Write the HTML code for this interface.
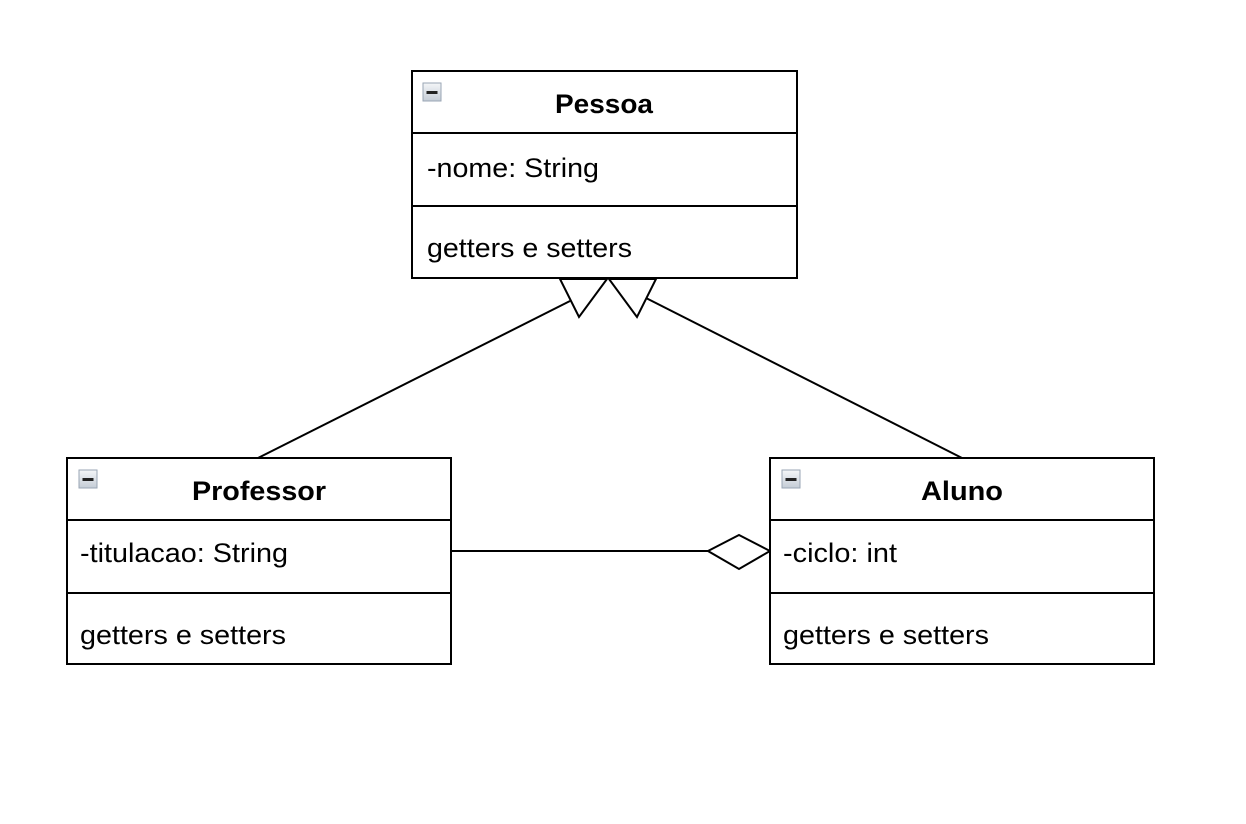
<!DOCTYPE html>
<html><head><style>body{margin:0;background:#fff}svg{display:block}</style></head><body>
<svg width="1246" height="824" viewBox="0 0 1246 824" xmlns="http://www.w3.org/2000/svg" font-family="Liberation Sans, Arial, sans-serif" font-size="27">
<defs>
<linearGradient id="g" x1="0" y1="0" x2="0" y2="1"><stop offset="0" stop-color="#f4f6f8"/><stop offset="1" stop-color="#c4ccd6"/></linearGradient>
<g id="ic"><rect x="0" y="0" width="18" height="18" fill="url(#g)" stroke="#9aa6b4" stroke-width="1"/><rect x="3.5" y="8" width="11" height="3" fill="#222"/></g>
</defs>
<g stroke="#000" stroke-width="2" fill="none">
<line x1="258" y1="458" x2="570" y2="301"/>
<line x1="962" y1="458" x2="646" y2="298"/>
<line x1="451" y1="551" x2="708" y2="551"/>
<polygon points="560,279 607,279 579,317" fill="#fff"/>
<polygon points="609,279 656,279 637,317" fill="#fff"/>
<polygon points="708,551 739,535 770,551 739,569" fill="#fff"/>
<rect x="412" y="71" width="385" height="207" fill="#fff"/>
<line x1="412" y1="133" x2="797" y2="133"/><line x1="412" y1="206" x2="797" y2="206"/>
<rect x="67" y="458" width="384" height="206" fill="#fff"/>
<line x1="67" y1="520" x2="451" y2="520"/><line x1="67" y1="593" x2="451" y2="593"/>
<rect x="770" y="458" width="384" height="206" fill="#fff"/>
<line x1="770" y1="520" x2="1154" y2="520"/><line x1="770" y1="593" x2="1154" y2="593"/>
</g>
<use href="#ic" x="423" y="83"/><use href="#ic" x="79" y="470"/><use href="#ic" x="782" y="470"/>
<g font-weight="bold">
<text x="555" y="113" textLength="98" lengthAdjust="spacingAndGlyphs">Pessoa</text>
<text x="192" y="500" textLength="134" lengthAdjust="spacingAndGlyphs">Professor</text>
<text x="921" y="500" textLength="82" lengthAdjust="spacingAndGlyphs">Aluno</text>
</g>
<text x="427" y="177" textLength="172" lengthAdjust="spacingAndGlyphs">-nome: String</text>
<text x="427" y="257" textLength="205" lengthAdjust="spacingAndGlyphs">getters e setters</text>
<text x="80" y="562" textLength="208" lengthAdjust="spacingAndGlyphs">-titulacao: String</text>
<text x="80" y="644" textLength="206" lengthAdjust="spacingAndGlyphs">getters e setters</text>
<text x="783" y="562" textLength="114" lengthAdjust="spacingAndGlyphs">-ciclo: int</text>
<text x="783" y="644" textLength="206" lengthAdjust="spacingAndGlyphs">getters e setters</text>
</svg>
</body></html>
